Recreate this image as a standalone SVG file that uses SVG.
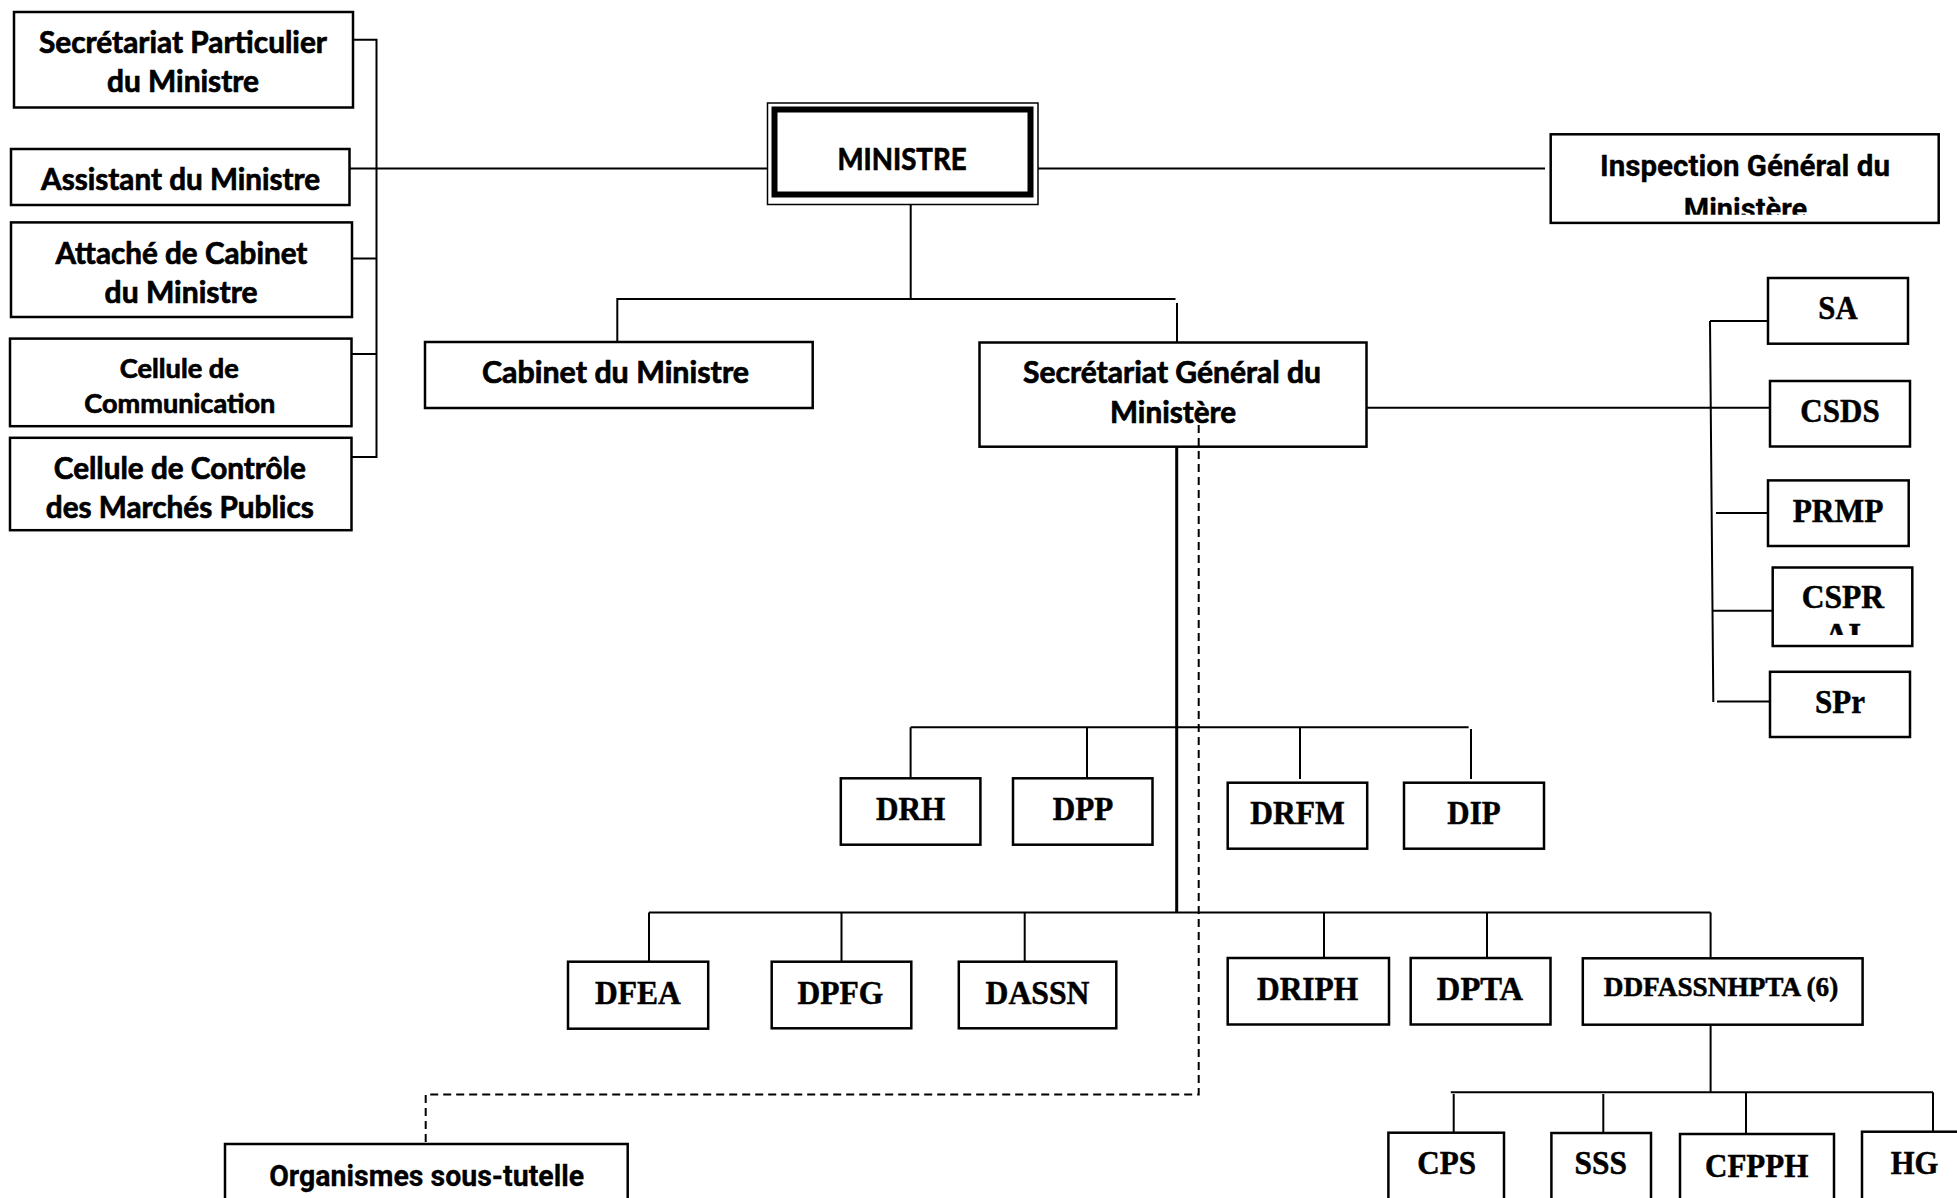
<svg xmlns="http://www.w3.org/2000/svg" width="1957" height="1198" viewBox="0 0 1957 1198">
<style>
.box{fill:#fff;stroke:#000;stroke-width:2.5}
.ln{fill:none;stroke:#000;stroke-width:2}
.thick{fill:none;stroke:#000;stroke-width:3}
.dash{fill:none;stroke:#000;stroke-width:2;stroke-dasharray:8 5}
.c{font-family:Lato,"Liberation Sans",sans-serif;font-weight:bold;font-size:29.5px;text-anchor:middle;fill:#000;stroke:#000;stroke-width:0.7}
.cs{font-size:26px}
.t{font-family:"Liberation Serif",serif;font-weight:bold;font-size:33px;text-anchor:middle;fill:#000;stroke:#000;stroke-width:0.5}
.r{font-family:Roboto,"Liberation Sans",sans-serif;font-weight:bold;font-size:29px;text-anchor:middle;fill:#000;stroke:#000;stroke-width:0.3}
</style>
<defs>
<clipPath id="clipIG"><rect x="1550" y="134" width="390" height="80.7"/></clipPath>
<clipPath id="clipCS"><rect x="1772" y="567" width="141" height="68"/></clipPath>
</defs>
<rect width="1957" height="1198" fill="#fff"/>

<g id="sec-particulier"><rect class="box" x="14" y="12" width="339" height="95.5"/>
<text class="c" x="183" y="53.4" textLength="288" lengthAdjust="spacingAndGlyphs">Secrétariat Particulier</text>
<text class="c" x="183" y="92.4" textLength="152" lengthAdjust="spacingAndGlyphs">du Ministre</text></g>

<g id="assistant"><rect class="box" x="11" y="149" width="338.5" height="56"/>
<text class="c" x="180.6" y="189.6" textLength="279" lengthAdjust="spacingAndGlyphs">Assistant du Ministre</text></g>

<g id="attache"><rect class="box" x="11" y="222.4" width="341" height="94.6"/>
<text class="c" x="181.4" y="263.8" textLength="252" lengthAdjust="spacingAndGlyphs">Attaché de Cabinet</text>
<text class="c" x="181.1" y="302.8" textLength="153" lengthAdjust="spacingAndGlyphs">du Ministre</text></g>

<g id="cellule-com"><rect class="box" x="10" y="338.6" width="341.5" height="87.6"/>
<text class="c cs" x="179.3" y="377.6" textLength="119" lengthAdjust="spacingAndGlyphs">Cellule de</text>
<text class="c cs" x="179.8" y="412.8" textLength="191" lengthAdjust="spacingAndGlyphs">Communication</text></g>

<g id="cellule-cmp"><rect class="box" x="10" y="437.8" width="341.5" height="92.4"/>
<text class="c" x="179.8" y="478.6" textLength="252" lengthAdjust="spacingAndGlyphs">Cellule de Contrôle</text>
<text class="c" x="179.8" y="517.5" textLength="268" lengthAdjust="spacingAndGlyphs">des Marchés Publics</text></g>

<g id="ministre">
<rect x="767.5" y="103" width="270.5" height="101.5" fill="#fff" stroke="#000" stroke-width="1.5"/>
<rect x="774.5" y="109.5" width="256" height="85" fill="none" stroke="#000" stroke-width="6"/>
<text class="c" x="902" y="170" textLength="129" lengthAdjust="spacingAndGlyphs">MINISTRE</text></g>

<g id="inspection"><rect class="box" x="1550.7" y="134.3" width="388" height="88.6"/>
<g clip-path="url(#clipIG)">
<text class="r" x="1745" y="176" textLength="290" lengthAdjust="spacingAndGlyphs">Inspection Général du</text>
<text class="r" x="1745.5" y="218.6">Ministère</text></g></g>

<g id="cabinet"><rect class="box" x="425" y="342" width="387.7" height="66"/>
<text class="c" x="615.5" y="383" textLength="267" lengthAdjust="spacingAndGlyphs">Cabinet du Ministre</text></g>

<g id="sg"><rect class="box" x="979.5" y="342.5" width="387" height="104.2"/>
<text class="c" x="1172" y="383.3" textLength="298" lengthAdjust="spacingAndGlyphs">Secrétariat Général du</text>
<text class="c" x="1173" y="422.7" textLength="126" lengthAdjust="spacingAndGlyphs">Ministère</text></g>

<g id="sa"><rect class="box" x="1768" y="278" width="140" height="65.7"/><text class="t" x="1838" y="318.8" textLength="39.3" lengthAdjust="spacingAndGlyphs">SA</text></g>
<g id="csds"><rect class="box" x="1770" y="381" width="140" height="65.5"/><text class="t" x="1840" y="422" textLength="79.3" lengthAdjust="spacingAndGlyphs">CSDS</text></g>
<g id="prmp"><rect class="box" x="1768" y="480.4" width="140.7" height="65.6"/><text class="t" x="1838" y="522" textLength="90.7" lengthAdjust="spacingAndGlyphs">PRMP</text></g>
<g id="cspr"><rect class="box" x="1772.7" y="567.5" width="139.6" height="78.5"/>
<g clip-path="url(#clipCS)"><text class="t" x="1842.8" y="608.3" textLength="82.3" lengthAdjust="spacingAndGlyphs">CSPR</text><text class="t" x="1842.8" y="646">AI</text></g></g>
<g id="spr"><rect class="box" x="1770" y="671.8" width="140" height="65.2"/><text class="t" x="1840" y="712.6" textLength="50" lengthAdjust="spacingAndGlyphs">SPr</text></g>

<g id="drh"><rect class="box" x="840.8" y="778.3" width="139.6" height="66.4"/><text class="t" x="910.6" y="820" textLength="69.3" lengthAdjust="spacingAndGlyphs">DRH</text></g>
<g id="dpp"><rect class="box" x="1013" y="778.3" width="139.5" height="66.4"/><text class="t" x="1083" y="820" textLength="60.6" lengthAdjust="spacingAndGlyphs">DPP</text></g>
<g id="drfm"><rect class="box" x="1227.7" y="782.7" width="139.5" height="66"/><text class="t" x="1297.5" y="824" textLength="94.5" lengthAdjust="spacingAndGlyphs">DRFM</text></g>
<g id="dip"><rect class="box" x="1404" y="782.7" width="140" height="66"/><text class="t" x="1474" y="824" textLength="53.3" lengthAdjust="spacingAndGlyphs">DIP</text></g>

<g id="dfea"><rect class="box" x="568" y="961.7" width="140.2" height="67"/><text class="t" x="638" y="1004" textLength="85.8" lengthAdjust="spacingAndGlyphs">DFEA</text></g>
<g id="dpfg"><rect class="box" x="771.7" y="961.7" width="139.6" height="66.6"/><text class="t" x="840.5" y="1004" textLength="85.8" lengthAdjust="spacingAndGlyphs">DPFG</text></g>
<g id="dassn"><rect class="box" x="958.8" y="961.7" width="157.5" height="66.6"/><text class="t" x="1037.5" y="1004" textLength="104" lengthAdjust="spacingAndGlyphs">DASSN</text></g>
<g id="driph"><rect class="box" x="1227.7" y="958" width="161.3" height="66.5"/><text class="t" x="1307.6" y="1000" textLength="101.3" lengthAdjust="spacingAndGlyphs">DRIPH</text></g>
<g id="dpta"><rect class="box" x="1410.7" y="958" width="139.8" height="66.5"/><text class="t" x="1480" y="1000" textLength="86.3" lengthAdjust="spacingAndGlyphs">DPTA</text></g>
<g id="ddfassnhpta"><rect class="box" x="1582.8" y="958.3" width="279.8" height="66.4"/><text class="t" x="1721" y="995.7" style="font-size:27.5px" textLength="234.6" lengthAdjust="spacingAndGlyphs">DDFASSNHPTA (6)</text></g>

<g id="cps"><rect class="box" x="1388.4" y="1132.7" width="115.6" height="90"/><text class="t" x="1446.6" y="1174.3" textLength="58.7" lengthAdjust="spacingAndGlyphs">CPS</text></g>
<g id="sss"><rect class="box" x="1551.4" y="1133" width="99.6" height="90"/><text class="t" x="1600.8" y="1174.3" textLength="52.4" lengthAdjust="spacingAndGlyphs">SSS</text></g>
<g id="cfpph"><rect class="box" x="1680" y="1134" width="154" height="90"/><text class="t" x="1756.7" y="1176.7" textLength="103.3" lengthAdjust="spacingAndGlyphs">CFPPH</text></g>
<g id="hg"><rect class="box" x="1862" y="1131.7" width="120" height="90"/><text class="t" x="1914.5" y="1174.3" textLength="47.7" lengthAdjust="spacingAndGlyphs">HG</text></g>

<g id="organismes"><rect class="box" x="225" y="1144" width="402.7" height="90"/>
<text class="r" x="426.7" y="1185.5" textLength="315" lengthAdjust="spacingAndGlyphs">Organismes sous-tutelle</text></g>

<g id="connectors">
<path class="ln" d="M353,39.7 H376.5 V457 H351.5 M352,258.6 H376.5 M351.5,354 H376.5 M349.5,168.5 H767.5"/>
<path class="ln" d="M1038,168.5 H1545"/>
<path class="ln" d="M910.7,204.5 V299 M617.3,342 V299 H1175.5 M1177,303 V342.5"/>
<path class="thick" d="M1176.7,446.7 V912.5"/>
<path class="ln" d="M1366.5,407.7 H1770"/>
<path class="ln" d="M1710,321 L1713.3,702 M1710,321 H1768 M1716,513 H1768 M1713,610.7 H1772.7 M1717,701.6 H1770"/>
<path class="ln" d="M910.6,727.3 H1468.6 M910.6,727.3 V778.3 M1087,727.3 V778.3 M1300,727.3 V779 M1471,729 V779"/>
<path class="ln" d="M649,912.5 H1710.6 M649,912.5 V961.7 M841.5,912.5 V961.7 M1024.7,912.5 V961.7 M1324,912.5 V958 M1487,912.5 V958 M1710.6,912.5 V958.3"/>
<path class="ln" d="M1710.6,1024.7 V1092.3 M1450.8,1092.3 H1933 M1453.7,1094 V1132.7 M1603.3,1094 V1133 M1746,1092.3 V1134 M1933,1092.3 V1131.7"/>
<path class="dash" d="M1198.7,425 V1094.5 H425.7 V1144"/>
</g>
</svg>
